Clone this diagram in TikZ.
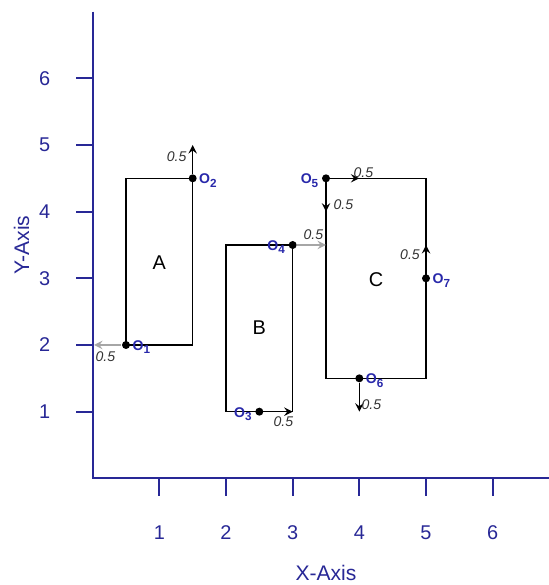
\documentclass[tikz,border=0pt]{standalone}
\usepackage{fontspec}
\setmainfont{Liberation Sans}
\usetikzlibrary{positioning}
\definecolor{axisblue}{RGB}{40,40,150}
\definecolor{olblue}{RGB}{40,40,170}
\tikzset{every picture/.style={line width=0.6pt}}

\begin{document}
\begin{tikzpicture}[>=stealth, every node/.style={font=\fontsize{8.5}{10}\selectfont},
    dot/.style={circle, fill=black, inner sep=0pt, minimum size=1.2mm},
    olabel/.style={text=olblue, inner sep=0.5pt, font=\fontsize{6}{7}\selectfont\bfseries},
    vlabel/.style={text=black!80, inner sep=0pt, font=\fontsize{6}{7}\selectfont\itshape},
    axis/.style={draw=axisblue, line width=0.8pt}]
        \useasboundingbox (-1.39,-1.6) rectangle (6.845,7.175);
        % eixos
        \draw[axis] (0,7) -- (0,0) -- (6.84,0);
        \foreach \i in {1,...,6} {
            \draw[axis] (\i,0) -- (\i,-0.27);
            \node[text=axisblue] (xt\i) at (\i,-0.82) {\i};
        }
        \foreach \i in {1,...,6} {
            \draw[axis] (0,\i) -- (-0.25,\i);
            \node[text=axisblue] (yt\i) at (-0.72,\i) {\i};
        }
        \node[text=axisblue, font=\fontsize{9}{10}\selectfont] (xlab) at (3.5,-1.42) {X-Axis};
        \node[text=axisblue, font=\fontsize{9}{10}\selectfont, rotate=90] (ylab) at (-1.065,3.5) {Y-Axis};
        % retângulos
        \draw (0.5,2) rectangle (1.5,4.5);
        \draw (2,1) rectangle (3,3.5);
        \draw (3.5,1.5) rectangle (5,4.5);
        \node (A) at (1,3.23) {A};
        \node (B) at (2.5,2.26) {B};
        \node (C) at (4.25,2.98) {C};
        % pontos
        \node[dot] (o1) at (0.5,2) {};
        \node[dot] (o2) at (1.5,4.5) {};
        \node[dot] (o3) at (2.5,1) {};
        \node[dot] (o4) at (3,3.5) {};
        \node[dot] (o5) at (3.5,4.5) {};
        \node[dot] (o6) at (4,1.5) {};
        \node[dot] (o7) at (5,3) {};
        % extremos das setas
        \coordinate (e1) at (0.02,2);
        \coordinate (e2) at (1.5,5);
        \coordinate (e3) at (3,1);
        \coordinate (e4) at (3.5,3.5);
        \coordinate (e5a) at (4,4.5);
        \coordinate (e5b) at (3.5,4);
        \coordinate (e6) at (4,1);
        \coordinate (e7) at (5,3.5);
        \draw[->, black!35] (o1) -- (e1);
        \draw[->] (o2) -- (e2);
        \draw[->] (o3) -- (e3);
        \draw[->, black!35] (o4) -- (e4);
        \draw[->] (o5) -- (e5a);
        \draw[->] (o5) -- (e5b);
        \draw[->] (o6) -- (e6);
        \draw[->] (o7) -- (e7);
        % rótulos dos pontos
        \node[olabel, right=0pt of o1, yshift=-1pt] {O\textsubscript{1}};
        \node[olabel, right=0pt of o2, yshift=-1pt] {O\textsubscript{2}};
        \node[olabel, left=0pt of o3, yshift=-1pt] {O\textsubscript{3}};
        \node[olabel, left=0pt of o4, yshift=-1pt] {O\textsubscript{4}};
        \node[olabel, left=0pt of o5, yshift=-1pt] {O\textsubscript{5}};
        \node[olabel, right=0pt of o6, yshift=-1pt] {O\textsubscript{6}};
        \node[olabel, right=0pt of o7, yshift=-1pt] {O\textsubscript{7}};
        % valores
        \node[vlabel] at (0.19,1.83) {0.5};
        \node[vlabel] at (1.26,4.83) {0.5};
        \node[vlabel] at (2.86,0.85) {0.5};
        \node[vlabel] at (3.31,3.65) {0.5};
        \node[vlabel] at (4.06,4.59) {0.5};
        \node[vlabel] at (3.76,4.10) {0.5};
        \node[vlabel] at (4.76,3.35) {0.5};
        \node[vlabel] at (4.18,1.10) {0.5};
    \end{tikzpicture}
\end{document}
